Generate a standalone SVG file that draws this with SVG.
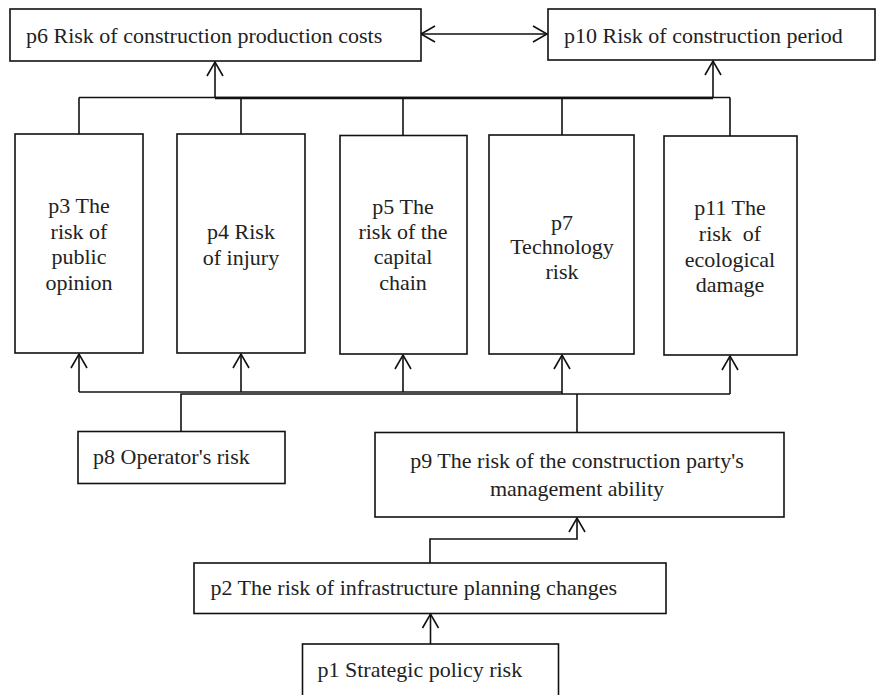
<svg xmlns="http://www.w3.org/2000/svg" width="877" height="695" viewBox="0 0 877 695">
<style>
.box{fill:#fff;stroke:#111;stroke-width:1.6}
.t{font-family:"Liberation Serif","Times New Roman",serif;font-size:22px;fill:#222}
.c{text-anchor:middle}
.ln{fill:none;stroke:#111;stroke-width:1.6}
.thick{fill:none;stroke:#111;stroke-width:2.6}
.arr{marker-end:url(#ah)}
</style>
<defs>
<marker id="ah" viewBox="-15 -10 17 20" refX="0" refY="0" markerWidth="17" markerHeight="20" markerUnits="userSpaceOnUse" orient="auto-start-reverse">
<path d="M-14,-8 L0,0 L-14,8" fill="none" stroke="#111" stroke-width="1.6"/>
</marker>
</defs>
<rect width="877" height="695" fill="#fff"/>
<g id="connectors">
<!-- double arrow p6 <-> p10 -->
<line class="ln" x1="421" y1="34" x2="547" y2="34" marker-start="url(#ah)" marker-end="url(#ah)"/>
<!-- top bus -->
<line class="ln" x1="79" y1="97.5" x2="730" y2="97.5"/>
<line class="thick" x1="215" y1="98" x2="713" y2="98"/>
<line class="ln arr" x1="215" y1="98" x2="215" y2="62"/>
<line class="ln arr" x1="713" y1="98" x2="713" y2="61"/>
<line class="ln" x1="79" y1="97.5" x2="79" y2="134"/>
<line class="ln" x1="241" y1="97.5" x2="241" y2="134"/>
<line class="ln" x1="403" y1="97.5" x2="403" y2="135.5"/>
<line class="ln" x1="562" y1="97.5" x2="562" y2="135"/>
<line class="ln" x1="730" y1="97.5" x2="730" y2="136"/>
<!-- bottom bus -->
<line class="ln" x1="79" y1="392" x2="562" y2="392"/>
<path class="ln" d="M181,431.5 V394 H562"/>
<path class="ln" d="M562,394 H730"/>
<path class="ln" d="M577,432.5 V394"/>
<line class="ln arr" x1="79" y1="392" x2="79" y2="354"/>
<line class="ln arr" x1="241" y1="392" x2="241" y2="354"/>
<line class="ln arr" x1="403" y1="392" x2="403" y2="355"/>
<line class="ln arr" x1="562" y1="394" x2="562" y2="355"/>
<line class="ln arr" x1="730" y1="394" x2="730" y2="356"/>
<!-- p2 -> p9 -->
<path class="ln arr" d="M430,563 V539 H577 V518"/>
<!-- p1 -> p2 -->
<line class="ln arr" x1="430.5" y1="644" x2="430.5" y2="614"/>
</g>
<g id="p6">
<rect class="box" x="10" y="9" width="411" height="52"/>
<text class="t" x="26" y="43">p6 Risk of construction production costs</text>
</g>
<g id="p10">
<rect class="box" x="548" y="9" width="327" height="51"/>
<text class="t" x="564" y="43">p10 Risk of construction period</text>
</g>
<g id="p3">
<rect class="box" x="15" y="134" width="128" height="219"/>
<text class="t c" x="79" y="213">p3 The</text>
<text class="t c" x="79" y="238.5">risk of</text>
<text class="t c" x="79" y="264">public</text>
<text class="t c" x="79" y="290">opinion</text>
</g>
<g id="p4">
<rect class="box" x="177" y="134" width="128" height="219"/>
<text class="t c" x="241" y="238.5">p4 Risk</text>
<text class="t c" x="241" y="264.5">of injury</text>
</g>
<g id="p5">
<rect class="box" x="340" y="135.5" width="127" height="218.5"/>
<text class="t c" x="403" y="213.5">p5 The</text>
<text class="t c" x="403" y="238.5">risk of the</text>
<text class="t c" x="403" y="264">capital</text>
<text class="t c" x="403" y="290">chain</text>
</g>
<g id="p7">
<rect class="box" x="489" y="135" width="145" height="219"/>
<text class="t c" x="562" y="229.5">p7</text>
<text class="t c" x="562" y="254">Technology</text>
<text class="t c" x="562" y="278.5">risk</text>
</g>
<g id="p11">
<rect class="box" x="664" y="136" width="133" height="219"/>
<text class="t c" x="730" y="215" xml:space="preserve">p11 The</text>
<text class="t c" x="730" y="241" xml:space="preserve">risk  of</text>
<text class="t c" x="730" y="266.5">ecological</text>
<text class="t c" x="730" y="292">damage</text>
</g>
<g id="p8">
<rect class="box" x="78" y="431.5" width="207" height="52"/>
<text class="t" x="93" y="464">p8 Operator's risk</text>
</g>
<g id="p9">
<rect class="box" x="375" y="432.5" width="409" height="84.5"/>
<text class="t c" x="577" y="468">p9 The risk of the construction party's</text>
<text class="t c" x="577" y="495.5">management ability</text>
</g>
<g id="p2">
<rect class="box" x="194" y="563" width="472" height="50.5"/>
<text class="t" x="210.5" y="595">p2 The risk of infrastructure planning changes</text>
</g>
<g id="p1">
<rect class="box" x="302.5" y="644" width="256" height="60"/>
<text class="t" x="317.5" y="677">p1 Strategic policy risk</text>
</g>
</svg>
